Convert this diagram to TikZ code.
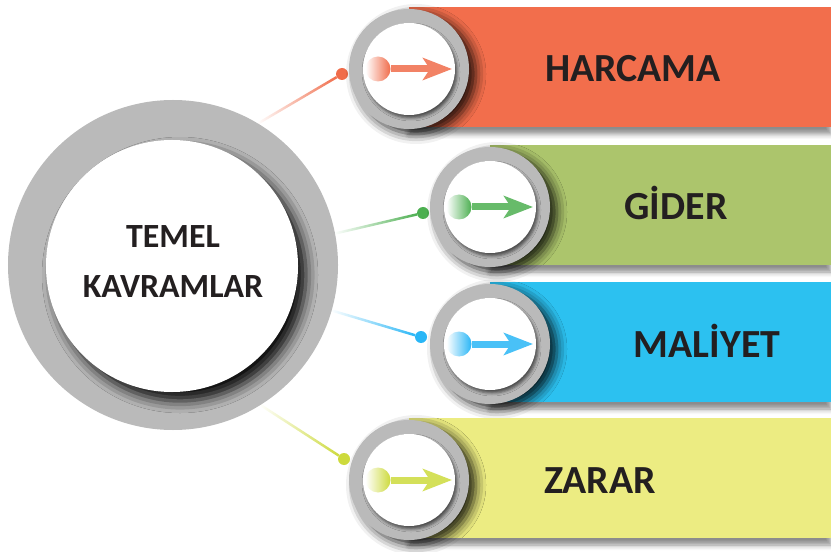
\documentclass[tikz,border=0pt]{standalone}
\usepackage{fontspec}
\setmainfont{Carlito}
\usetikzlibrary{arrows.meta,shadows,shadows.blur,fadings}

\definecolor{halkagri}{RGB}{186,186,186}
\definecolor{metin}{RGB}{35,31,32}
\definecolor{harcamaserit}{RGB}{242,110,76}
\definecolor{harcamaok}{RGB}{240,108,74}
\definecolor{giderserit}{RGB}{172,197,108}
\definecolor{giderok}{RGB}{76,175,80}
\definecolor{maliyetserit}{RGB}{44,193,240}
\definecolor{maliyetok}{RGB}{41,182,246}
\definecolor{zararserit}{RGB}{236,236,130}
\definecolor{zararok}{RGB}{205,218,60}

\begin{document}
\begin{tikzpicture}[x=1bp,y=-1bp]

\useasboundingbox (0,0) rectangle (831,552);

\tikzstyle{serit}=[blur shadow={shadow xshift=0bp,shadow yshift=-7bp,shadow blur radius=5bp,shadow opacity=45}]
\tikzstyle{halka}=[circle,fill=halkagri,minimum size=120bp,inner sep=0,
    blur shadow={shadow xshift=7bp,shadow yshift=-5bp,shadow blur radius=10bp,shadow opacity=85}]
\tikzstyle{beyaz}=[circle,fill=white,minimum size=92bp,inner sep=0,
    blur shadow={shadow xshift=2bp,shadow yshift=-3bp,shadow blur radius=3bp,shadow opacity=60}]
\tikzstyle{nokta}=[circle,inner sep=0,minimum size=12bp]
\tikzstyle{bilye}=[circle,inner sep=0,minimum size=25bp]
\tikzstyle{baglanti}=[line width=2.5bp,path fading=west]
\tikzstyle{ok}=[line width=7bp,-{Stealth[length=29bp,width=22bp,inset=7bp]}]
\tikzstyle{etiket}=[anchor=base,text=metin,font=\fontsize{40}{48}\selectfont\bfseries]
\tikzstyle{baslik}=[anchor=base,text=metin,font=\fontsize{34}{40}\selectfont\bfseries]

\newcommand{\kavramdali}[8]{
    \fill[#1serit,serit] (#2,#3-62) rectangle (831,#3+58);
    \node[nokta,fill=#1ok] (n#1) at (#6,#7) {};
    \draw[#1ok,baglanti] (kavram.#8) -- (n#1);
    \node[halka] (h#1) at (#2,#3) {};
    \node[beyaz] (b#1) at (h#1) {};
    \node[bilye,left color=white,right color=#1ok] (t#1) at (#2-31,#3) {};
    \coordinate (u#1) at (#2+43,#3);
    \draw[#1ok!85,ok] (t#1) -- (u#1);
    \node[etiket] (e#1) at (#5,#3+13) {#4};
}

% merkez
\node[circle,fill=halkagri,minimum size=330bp,inner sep=0] (kavram) at (173,265) {};
\node[circle,fill=white,minimum size=252bp,inner sep=0,
    blur shadow={shadow xshift=8bp,shadow yshift=-9bp,shadow blur radius=12bp,shadow opacity=95}] (merkez) at (172,266) {};
\node[baslik] (temel) at (173,248) {TEMEL};
\node[baslik] (kavramlar) at (173,298) {KAVRAMLAR};

% dallar
\kavramdali{harcama}{409}{69}{HARCAMA}{633}{342}{74}{59}
\kavramdali{gider}{490}{207}{GİDER}{676}{423}{213}{11}
\kavramdali{maliyet}{490}{344}{MALİYET}{707}{421}{337}{-16}
\kavramdali{zarar}{409}{480}{ZARAR}{600}{344}{459}{-58}

\end{tikzpicture}
\end{document}
